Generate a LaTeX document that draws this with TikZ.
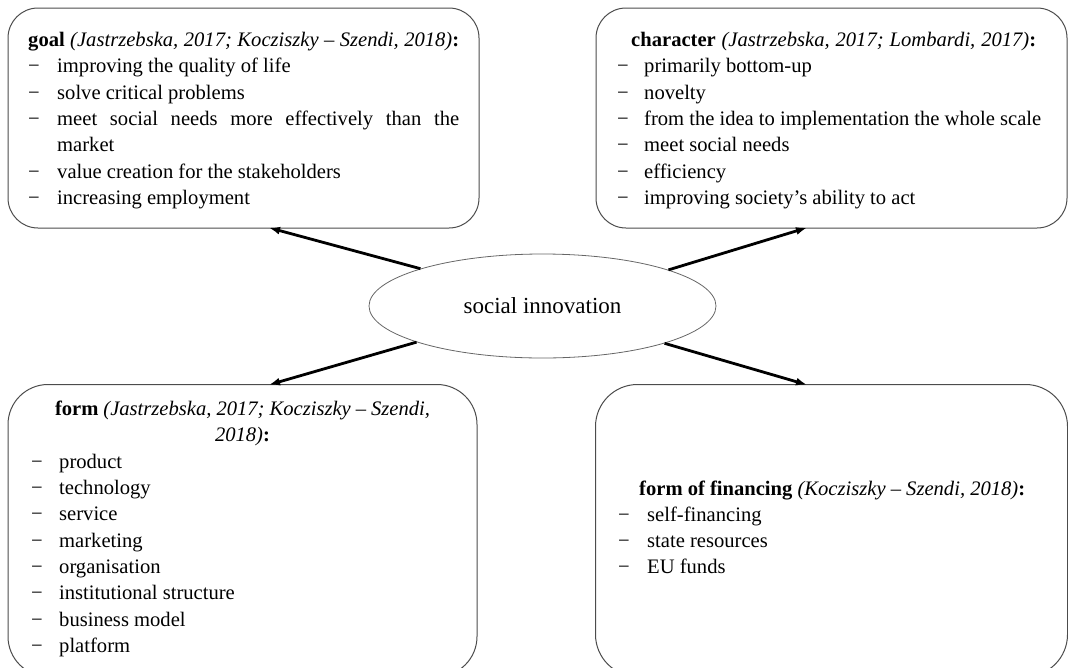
\documentclass[tikz,border=0pt]{standalone}
\usepackage{fontspec}
\setmainfont{Liberation Serif}
\usetikzlibrary{arrows.meta,shapes.geometric}
\begin{document}
\begin{tikzpicture}[x=1pt,y=-1pt,
  box/.style={draw=black!70, line width=1pt, rectangle, inner sep=0pt},
  txt/.style={inner sep=0pt, anchor=base west, font=\fontsize{20.6}{26}\selectfont},
  ctxt/.style={inner sep=0pt, anchor=base, font=\fontsize{20.6}{26}\selectfont},
  arr/.style={line width=2.8pt, black, -{Latex[length=11pt,width=8pt]}, shorten >=-1pt}
]
\useasboundingbox (0,0) rectangle (1068,667);

% boxes
\node[box, rounded corners=30pt, minimum width=471pt, minimum height=220pt] (goal) at (243.5,118) {};
\node[box, rounded corners=30pt, minimum width=471pt, minimum height=220pt] (char) at (831.5,118) {};
\node[box, rounded corners=40pt, minimum width=469pt, minimum height=292pt] (form) at (242.5,530.5) {};
\node[box, rounded corners=42pt, minimum width=472pt, minimum height=292pt] (fin) at (831.5,530.5) {};

% centre
\node[ellipse, draw=black!60, line width=0.8pt, minimum width=347pt, minimum height=104pt, inner sep=0pt,
      font=\fontsize{23}{28}\selectfont] (si) at (542.5,306) {social innovation};

% goal box
\node[txt] (g0) at (28,46.7) {\makebox[431pt][s]{\textbf{goal} \textit{(Jastrzebska, 2017; Kocziszky – Szendi, 2018)}\textbf{:}}};
\node[txt] (gd1) at (28,72.7) {−};
\node[txt] (g1) at (57,72.7) {improving the quality of life};
\node[txt] (gd2) at (28,99) {−};
\node[txt] (g2) at (57,99) {solve critical problems};
\node[txt] (gd3) at (28,125.3) {−};
\node[txt] (g3) at (57,125.3) {\makebox[402pt][s]{meet social needs more effectively than the}};
\node[txt] (g3b) at (57,151.6) {market};
\node[txt] (gd4) at (28,178) {−};
\node[txt] (g4) at (57,178) {value creation for the stakeholders};
\node[txt] (gd5) at (28,204.3) {−};
\node[txt] (g5) at (57,204.3) {increasing employment};

% character box
\node[txt] (c0) at (631,46.7) {\makebox[405pt][s]{\textbf{character} \textit{(Jastrzebska, 2017; Lombardi, 2017)}\textbf{:}}};
\node[txt] (cd1) at (617,72.7) {−};
\node[txt] (c1) at (644,72.7) {primarily bottom-up};
\node[txt] (cd2) at (617,99) {−};
\node[txt] (c2) at (644,99) {novelty};
\node[txt] (cd3) at (617,125.3) {−};
\node[txt] (c3) at (644,125.3) {\makebox[397pt][s]{from the idea to implementation the whole scale}};
\node[txt] (cd4) at (617,151.6) {−};
\node[txt] (c4) at (644,151.6) {meet social needs};
\node[txt] (cd5) at (617,178) {−};
\node[txt] (c5) at (644,178) {efficiency};
\node[txt] (cd6) at (617,204.3) {−};
\node[txt] (c6) at (644,204.3) {improving society’s ability to act};

% form box
\node[ctxt] (f0) at (242.5,415) {\makebox[375pt][s]{\textbf{form} \textit{(Jastrzebska, 2017; Kocziszky – Szendi,}}};
\node[ctxt] (f0b) at (242.5,441) {\textit{2018)}\textbf{:}};
\node[txt] (fd1) at (31,468) {−};
\node[txt] (f1) at (59,468) {product};
\node[txt] (fd2) at (31,494.3) {−};
\node[txt] (f2) at (59,494.3) {technology};
\node[txt] (fd3) at (31,520.6) {−};
\node[txt] (f3) at (59,520.6) {service};
\node[txt] (fd4) at (31,547) {−};
\node[txt] (f4) at (59,547) {marketing};
\node[txt] (fd5) at (31,573.3) {−};
\node[txt] (f5) at (59,573.3) {organisation};
\node[txt] (fd6) at (31,599.6) {−};
\node[txt] (f6) at (59,599.6) {institutional structure};
\node[txt] (fd7) at (31,626) {−};
\node[txt] (f7) at (59,626) {business model};
\node[txt] (fd8) at (31,652.3) {−};
\node[txt] (f8) at (59,652.3) {platform};

% financing box
\node[txt] (n0) at (639,495) {\makebox[386pt][s]{\textbf{form of financing} \textit{(Kocziszky – Szendi, 2018)}\textbf{:}}};
\node[txt] (nd1) at (618,521) {−};
\node[txt] (n1) at (647,521) {self-financing};
\node[txt] (nd2) at (618,547.3) {−};
\node[txt] (n2) at (647,547.3) {state resources};
\node[txt] (nd3) at (618,573.6) {−};
\node[txt] (n3) at (647,573.6) {EU funds};

% arrow end points on the box edges
\coordinate (e1) at (270,228);
\coordinate (e2) at (806,228);
\coordinate (e3) at (270,384.5);
\coordinate (e4) at (806,384.5);

\draw[arr] (si.163.2) -- (e1);
\draw[arr] (si.16.8) -- (e2);
\draw[arr] (si.196.8) -- (e3);
\draw[arr] (si.343.2) -- (e4);
\end{tikzpicture}
\end{document}
